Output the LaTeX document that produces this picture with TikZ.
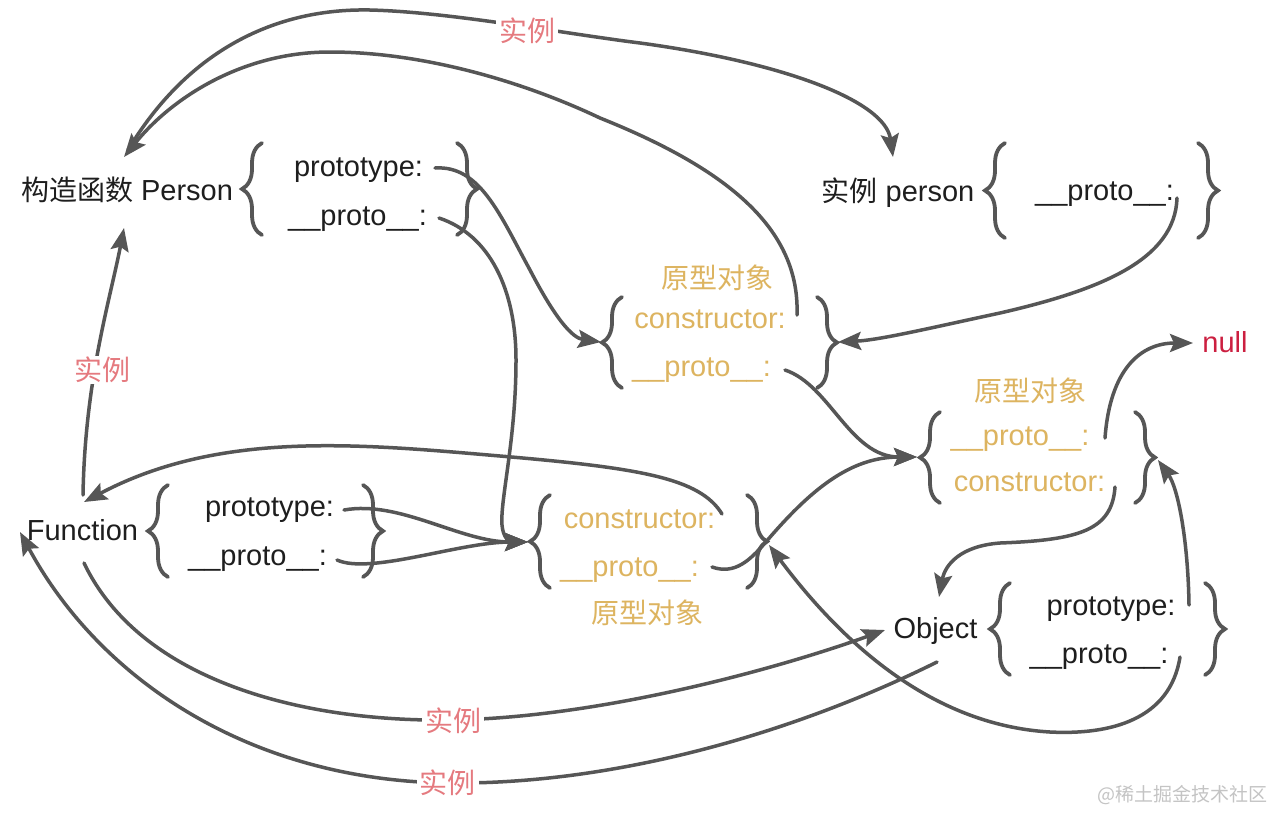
\documentclass[tikz,border=0pt]{standalone}
\usepackage{fontspec}
\setmainfont{Liberation Sans}
\newfontfamily\cjkf{Noto Sans CJK SC}
\usetikzlibrary{arrows.meta,decorations.pathreplacing}
\definecolor{ln}{HTML}{565656}
\definecolor{gold}{HTML}{DDB460}
\definecolor{pinkc}{HTML}{E57A7F}
\definecolor{nullred}{HTML}{CC1F40}
\definecolor{ink}{HTML}{1E1E1E}
\definecolor{wmc}{HTML}{C4C4C4}
\begin{document}
\begin{tikzpicture}[x=1pt,y=-1pt,
  txt/.style={inner sep=0pt, anchor=base, font=\fontsize{29}{34}\selectfont, text=ink},
  gtxt/.style={txt, text=gold},
  gcjk/.style={inner sep=0pt, anchor=center, font=\cjkf\fontsize{28}{32}\selectfont, text=gold},
  lbl/.style={inner xsep=3pt, inner ysep=1pt, anchor=center, fill=white, font=\cjkf\fontsize{28}{32}\selectfont, text=pinkc},
  brc/.style={draw=ln, line width=3.8pt, line cap=round, decorate, decoration={brace, amplitude=20pt}},
  conn/.style={draw=ln, line width=3.5pt, line cap=round, -{Stealth[length=23pt,width=18pt,inset=4pt]}}
]
\useasboundingbox (0,0) rectangle (1268,812);
\fill[white] (0,0) rectangle (1268,812);

% ---------- text nodes ----------
\node[txt] (Person) at (127,200) {{\cjkf\fontsize{28}{32}\selectfont 构造函数} Person};
\node[txt] (Pproto) at (358.5,176) {prototype:};
\node[txt] (Pdp) at (357.5,225) {\_\_proto\_\_:};
\node[txt] (person) at (898,201) {{\cjkf\fontsize{28}{32}\selectfont 实例} person};
\node[txt] (pdp) at (1104.5,200) {\_\_proto\_\_:};
\node[gcjk] (PPtitle) at (717.5,277.5) {原型对象};
\node[gtxt] (PPcons) at (710,328) {constructor:};
\node[gtxt] (PPdp) at (701.5,376) {\_\_proto\_\_:};
\node[txt] (Func) at (82.5,540) {Function};
\node[txt] (Fproto) at (269.5,516) {prototype:};
\node[txt] (Fdp) at (257.5,565) {\_\_proto\_\_:};
\node[gtxt] (FPcons) at (639.5,528) {constructor:};
\node[gtxt] (FPdp) at (629.5,576) {\_\_proto\_\_:};
\node[gcjk] (FPtitle) at (647,612.5) {原型对象};
\node[gcjk] (OPtitle) at (1030,391) {原型对象};
\node[gtxt] (OPdp) at (1020,445) {\_\_proto\_\_:};
\node[gtxt] (OPcons) at (1029.5,491) {constructor:};
\node[txt, text=nullred] (null) at (1225,352) {null};
\node[txt] (Obj) at (935.5,638) {Object};
\node[txt] (Oproto) at (1111,615) {prototype:};
\node[txt] (Odp) at (1099,663) {\_\_proto\_\_:};

% ---------- braces ----------
\draw[brc] (262,235) -- (262,143);   \draw[brc] (457,143) -- (457,235);
\draw[brc] (1005,238) -- (1005,143); \draw[brc] (1198,143) -- (1198,238);
\draw[brc] (622,388) -- (622,297);   \draw[brc] (817,297) -- (817,388);
\draw[brc] (168,577) -- (168,485);   \draw[brc] (363,485) -- (363,577);
\draw[brc] (550,588) -- (550,495);   \draw[brc] (747,495) -- (747,588);
\draw[brc] (940,503) -- (940,412);   \draw[brc] (1135,412) -- (1135,503);
\draw[brc] (1010,675) -- (1010,583); \draw[brc] (1205,583) -- (1205,675);

% ---------- connector end points ----------
\coordinate (cOuterS) at (128,150);
\coordinate (cPerTop) at (124,157);
\coordinate (cPersonTop) at (893,157);
\coordinate (cPPcons) at (797,315);
\coordinate (cPproto) at (435,168);
\coordinate (cPPin) at (601,342);
\coordinate (cPdp) at (439,218);
\coordinate (cFPin) at (528,542);
\coordinate (cFproto) at (344,510);
\coordinate (cFdp) at (337,560);
\coordinate (cFPcons) at (722,514);
\coordinate (cFunTop) at (84,502);
\coordinate (cFPdp) at (712,567);
\coordinate (cOPin) at (917,457);
\coordinate (cPPdp) at (785,370);
\coordinate (cpdp) at (1177,198);
\coordinate (cPPinR) at (838,342);
\coordinate (cOPdp) at (1105,438);
\coordinate (cNull) at (1193,343);
\coordinate (cOPcons) at (1115,487);
\coordinate (cObjTop) at (939,597);
\coordinate (cOproto) at (1189,605);
\coordinate (cOPinR) at (1158,460);
\coordinate (cOdp) at (1180,657);
\coordinate (cFPinR) at (769,545);
\coordinate (cFunUp) at (83,495);
\coordinate (cPerBot) at (124,228);
\coordinate (cFunBot) at (84,563);
\coordinate (cObjL) at (885,630);
\coordinate (cObjBot) at (937,662);
\coordinate (cFunL) at (20,532);

% ---------- connectors ----------
\draw[conn] (cOuterS) .. controls (185,55) and (270,8) .. (370,10)
  .. controls (450,12) and (560,33) .. (640,43)
  .. controls (780,62) and (885,100) .. (cPersonTop);
\draw[conn] (cPPcons) .. controls (800,230) and (730,170) .. (600,118)
  .. controls (520,80) and (420,52) .. (330,52)
  .. controls (240,52) and (170,100) .. (cPerTop);
\draw[conn] (cPproto) .. controls (480,165) and (500,215) .. (530,270)
  .. controls (555,318) and (572,338) .. (cPPin);
\draw[conn] (cPdp) .. controls (490,235) and (516,290) .. (516,360)
  .. controls (516,440) and (500,500) .. (502,525)
  .. controls (503,538) and (510,542) .. (cFPin);
\draw[conn] (cFproto) .. controls (400,500) and (460,542) .. (cFPin);
\draw[conn] (cFdp) .. controls (370,575) and (460,542) .. (cFPin);
\draw[conn] (cFPcons) .. controls (700,478) and (640,468) .. (500,456)
  .. controls (360,444) and (220,430) .. (cFunTop);
\draw[conn] (cFPdp) .. controls (735,575) and (750,560) .. (765,543)
  .. controls (810,490) and (850,457) .. (cOPin);
\draw[conn] (cPPdp) .. controls (830,385) and (850,457) .. (cOPin);
\draw[conn] (cpdp) .. controls (1175,260) and (1100,290) .. (1000,313)
  .. controls (930,328) and (880,340) .. (cPPinR);
\draw[conn] (cOPdp) .. controls (1110,370) and (1140,343) .. (cNull);
\draw[conn] (cOPcons) .. controls (1112,530) and (1080,540) .. (1000,543)
  .. controls (960,546) and (945,565) .. (cObjTop);
\draw[conn] (cOproto) .. controls (1188,540) and (1178,488) .. (cOPinR);
\draw[conn] (cOdp) .. controls (1170,720) and (1110,735) .. (1050,732)
  .. controls (930,725) and (840,640) .. (cFPinR);
\draw[conn] (cFunUp) .. controls (85,380) and (110,300) .. (cPerBot);
\draw[conn] (cFunBot) .. controls (140,680) and (300,722) .. (450,720)
  .. controls (600,718) and (780,668) .. (cObjL);
\draw[conn] (cObjBot) .. controls (800,730) and (620,785) .. (447,783)
  .. controls (250,780) and (100,680) .. (cFunL);

% ---------- labels ----------
\node[lbl] (l1) at (527,30.5) {实例};
\node[lbl] (l2) at (102,370) {实例};
\node[lbl] (l3) at (453,720.5) {实例};
\node[lbl] (l4) at (447.5,782.5) {实例};
\node[inner sep=0pt, font=\cjkf\fontsize{19}{22}\selectfont, text=wmc] (wm) at (1182,795) {@稀土掘金技术社区};
\end{tikzpicture}
\end{document}
